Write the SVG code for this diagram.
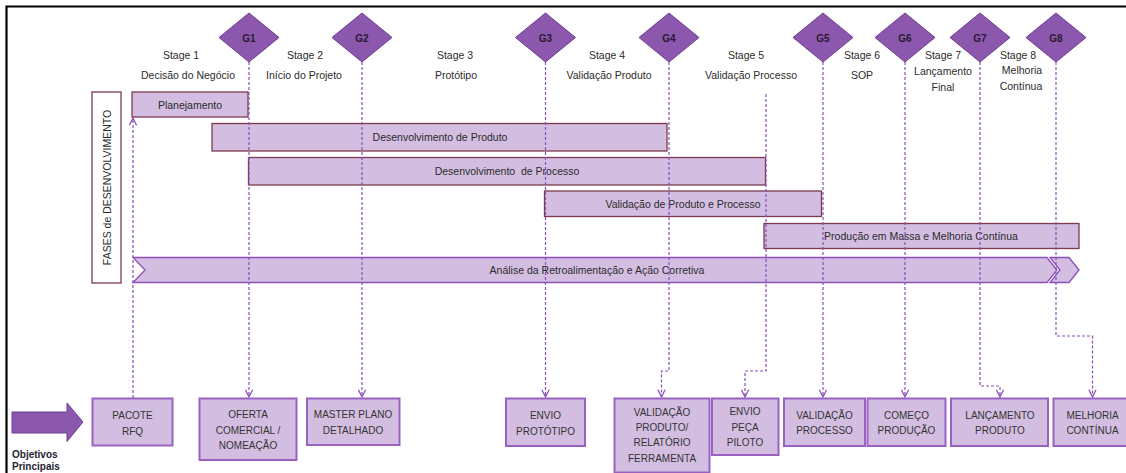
<svg xmlns="http://www.w3.org/2000/svg" width="1126" height="473" viewBox="0 0 1126 473">
  <style>
    .lbl { font-family: "Liberation Sans", Arial, sans-serif; font-size: 10.5px; fill: #2b2b2b; text-anchor: middle; }
    .gate { fill: #8B58AD; stroke: #6E3C92; stroke-width: 1; }
    .gtxt { font-family: "Liberation Sans", Arial, sans-serif; font-size: 10px; font-weight: bold; fill: #2a1a33; text-anchor: middle; }
    .bar { fill: #D3BEE1; stroke: #7A3B4E; stroke-width: 1.3; }
    .chev { fill: #D3BEE1; stroke: #8A4FB8; stroke-width: 1.3; }
    .box { fill: #D3BEE1; stroke: #9A62C0; stroke-width: 2; }
    .btxt { font-family: "Liberation Sans", Arial, sans-serif; font-size: 10px; fill: #333; text-anchor: middle; }
    .link { fill: none; stroke: #8A4FB8; stroke-width: 1.2; stroke-dasharray: 3 2; }
  </style>
  <defs>
    <marker id="vhead" viewBox="0 0 10 10" refX="9" refY="5" markerWidth="9" markerHeight="9" markerUnits="userSpaceOnUse" orient="auto">
      <path d="M1,1 L9,5 L1,9" fill="none" stroke="#8A4FB8" stroke-width="1.4"/>
    </marker>
  </defs>

  <rect width="1126" height="473" fill="#ffffff"/>
  <!-- frame -->
  <path d="M6.5,473 V6.5 H1126" fill="none" stroke="#000" stroke-width="2.2"/>

  <!-- stage headings -->
  <g id="stages">
    <text class="lbl" x="181" y="59">Stage 1</text>
    <text class="lbl" x="188" y="79">Decisão do Negócio</text>
    <text class="lbl" x="305" y="59">Stage 2</text>
    <text class="lbl" x="304" y="79">Início do Projeto</text>
    <text class="lbl" x="455" y="59">Stage 3</text>
    <text class="lbl" x="456" y="79">Protótipo</text>
    <text class="lbl" x="607" y="59">Stage 4</text>
    <text class="lbl" x="609" y="79">Validação Produto</text>
    <text class="lbl" x="746" y="59">Stage 5</text>
    <text class="lbl" x="751" y="79">Validação Processo</text>
    <text class="lbl" x="862" y="59">Stage 6</text>
    <text class="lbl" x="862" y="79">SOP</text>
    <text class="lbl" x="943" y="59">Stage 7</text>
    <text class="lbl" x="943" y="75">Lançamento</text>
    <text class="lbl" x="943" y="91">Final</text>
    <text class="lbl" x="1018" y="59">Stage 8</text>
    <text class="lbl" x="1022" y="74">Melhoria</text>
    <text class="lbl" x="1021" y="90">Contínua</text>
  </g>

  <!-- side label -->
  <g id="fases">
    <rect x="92" y="92" width="29" height="191" fill="#fff" stroke="#7A3B4E" stroke-width="1.3"/>
    <text class="lbl" transform="translate(110.5,187.5) rotate(-90)" font-size="10.5">FASES de DESENVOLVIMENTO</text>
  </g>

  <!-- phase bars -->
  <g id="bar-planejamento">
    <rect class="bar" x="132" y="92" width="116" height="25"/>
    <text class="lbl" x="190" y="108.5">Planejamento</text>
  </g>
  <g id="bar-dev-produto">
    <rect class="bar" x="212" y="123.5" width="455" height="27.5"/>
    <text class="lbl" x="440" y="141">Desenvolvimento de Produto</text>
  </g>
  <g id="bar-dev-processo">
    <rect class="bar" x="248.5" y="157.5" width="517" height="27.5"/>
    <text class="lbl" x="507" y="175" xml:space="preserve">Desenvolvimento  de Processo</text>
  </g>
  <g id="bar-validacao">
    <rect class="bar" x="544.5" y="191" width="277" height="25.5"/>
    <text class="lbl" x="683" y="207.5">Validação de Produto e Processo</text>
  </g>
  <g id="bar-producao">
    <rect class="bar" x="764" y="223.5" width="315" height="25"/>
    <text class="lbl" x="921" y="240">Produção em Massa e Melhoria Contínua</text>
  </g>
  <g id="bar-analise">
    <polygon class="chev" points="133,257.5 1047,257.5 1057,270 1047,282.5 133,282.5 145,270"/>
    <polygon class="chev" points="1050,257.5 1069,257.5 1079,270 1069,282.5 1050,282.5 1060,270"/>
    <text class="lbl" x="597" y="273.5">Análise da Retroalimentação e Ação Corretiva</text>
  </g>

  <!-- connectors -->
  <g id="connectors">
    <line class="link" x1="133" y1="398" x2="133" y2="118" marker-end="url(#vhead)"/>
    <line class="link" x1="249" y1="62" x2="249" y2="397" marker-end="url(#vhead)"/>
    <line class="link" x1="362" y1="62" x2="362" y2="397" marker-end="url(#vhead)"/>
    <line class="link" x1="545.5" y1="62" x2="545.5" y2="397" marker-end="url(#vhead)"/>
    <polyline class="link" points="669,62 669,371 661.5,371 661.5,397" marker-end="url(#vhead)"/>
    <polyline class="link" points="766,94 766,371 745,371 745,397" marker-end="url(#vhead)"/>
    <line class="link" x1="823" y1="62" x2="823" y2="397" marker-end="url(#vhead)"/>
    <line class="link" x1="905" y1="62" x2="905" y2="397" marker-end="url(#vhead)"/>
    <polyline class="link" points="980,62 980,386 1000,386 1000,397" marker-end="url(#vhead)"/>
    <polyline class="link" points="1056,62 1056,336 1092.5,336 1092.5,397" marker-end="url(#vhead)"/>
  </g>

  <!-- gates -->
  <g id="G1"><polygon class="gate" points="219,37.5 249,13 279,37.5 249,62"/><text class="gtxt" x="249" y="42">G1</text></g>
  <g id="G2"><polygon class="gate" points="332,37.5 362,13 392,37.5 362,62"/><text class="gtxt" x="362" y="42">G2</text></g>
  <g id="G3"><polygon class="gate" points="515.5,37.5 545.5,13 575.5,37.5 545.5,62"/><text class="gtxt" x="545.5" y="42">G3</text></g>
  <g id="G4"><polygon class="gate" points="639,37.5 669,13 699,37.5 669,62"/><text class="gtxt" x="669" y="42">G4</text></g>
  <g id="G5"><polygon class="gate" points="793,37.5 823,13 853,37.5 823,62"/><text class="gtxt" x="823" y="42">G5</text></g>
  <g id="G6"><polygon class="gate" points="875,37.5 905,13 935,37.5 905,62"/><text class="gtxt" x="905" y="42">G6</text></g>
  <g id="G7"><polygon class="gate" points="950,37.5 980,13 1010,37.5 980,62"/><text class="gtxt" x="980" y="42">G7</text></g>
  <g id="G8"><polygon class="gate" points="1026,37.5 1056,13 1086,37.5 1056,62"/><text class="gtxt" x="1056" y="42">G8</text></g>

  <!-- objectives arrow -->
  <g id="objetivos">
    <polygon points="12,412 67,412 67,403 83,422 67,441.5 67,433 12,433" fill="#8B58AD" stroke="#6E3C92" stroke-width="1"/>
    <text x="12" y="458" font-family="Liberation Sans, Arial, sans-serif" font-size="10px" font-weight="bold" fill="#1f2233">Objetivos</text>
    <text x="12" y="470" font-family="Liberation Sans, Arial, sans-serif" font-size="10px" font-weight="bold" fill="#1f2233">Principais</text>
  </g>

  <!-- objective boxes -->
  <g id="obj-pacote">
    <rect class="box" x="92.5" y="398.5" width="80" height="47"/>
    <text class="btxt" x="132.5" y="418.5">PACOTE</text>
    <text class="btxt" x="132.5" y="434.5">RFQ</text>
  </g>
  <g id="obj-oferta">
    <rect class="box" x="199.5" y="398.5" width="97" height="61.5"/>
    <text class="btxt" x="248" y="417.5">OFERTA</text>
    <text class="btxt" x="248" y="433.5">COMERCIAL /</text>
    <text class="btxt" x="248" y="448.5">NOMEAÇÃO</text>
  </g>
  <g id="obj-master">
    <rect class="box" x="307" y="398.5" width="92.5" height="46.5"/>
    <text class="btxt" x="353" y="417.5">MASTER PLANO</text>
    <text class="btxt" x="353" y="433.5">DETALHADO</text>
  </g>
  <g id="obj-prototipo">
    <rect class="box" x="506" y="398.5" width="79" height="47.5"/>
    <text class="btxt" x="545.5" y="418.5">ENVIO</text>
    <text class="btxt" x="545.5" y="434.5">PROTÓTIPO</text>
  </g>
  <g id="obj-validacao-produto">
    <rect class="box" x="614.5" y="398.5" width="95" height="74"/>
    <text class="btxt" x="662" y="416">VALIDAÇÃO</text>
    <text class="btxt" x="662" y="431">PRODUTO/</text>
    <text class="btxt" x="662" y="446">RELATÓRIO</text>
    <text class="btxt" x="662" y="461.5">FERRAMENTA</text>
  </g>
  <g id="obj-piloto">
    <rect class="box" x="712" y="398.5" width="66.5" height="56.5"/>
    <text class="btxt" x="745" y="415">ENVIO</text>
    <text class="btxt" x="745" y="430.5">PEÇA</text>
    <text class="btxt" x="745" y="446">PILOTO</text>
  </g>
  <g id="obj-validacao-processo">
    <rect class="box" x="784" y="398.5" width="81" height="47.5"/>
    <text class="btxt" x="824.5" y="418.5">VALIDAÇÃO</text>
    <text class="btxt" x="824.5" y="434">PROCESSO</text>
  </g>
  <g id="obj-comeco">
    <rect class="box" x="867.5" y="398.5" width="78" height="47.5"/>
    <text class="btxt" x="906.5" y="418.5">COMEÇO</text>
    <text class="btxt" x="906.5" y="434">PRODUÇÃO</text>
  </g>
  <g id="obj-lancamento">
    <rect class="box" x="951" y="398.5" width="97" height="47.5"/>
    <text class="btxt" x="1000" y="418.5">LANÇAMENTO</text>
    <text class="btxt" x="1000" y="434">PRODUTO</text>
  </g>
  <g id="obj-melhoria">
    <rect class="box" x="1053.5" y="398.5" width="80" height="47.5"/>
    <text class="btxt" x="1092.5" y="418.5">MELHORIA</text>
    <text class="btxt" x="1092.5" y="434">CONTÍNUA</text>
  </g>
</svg>
